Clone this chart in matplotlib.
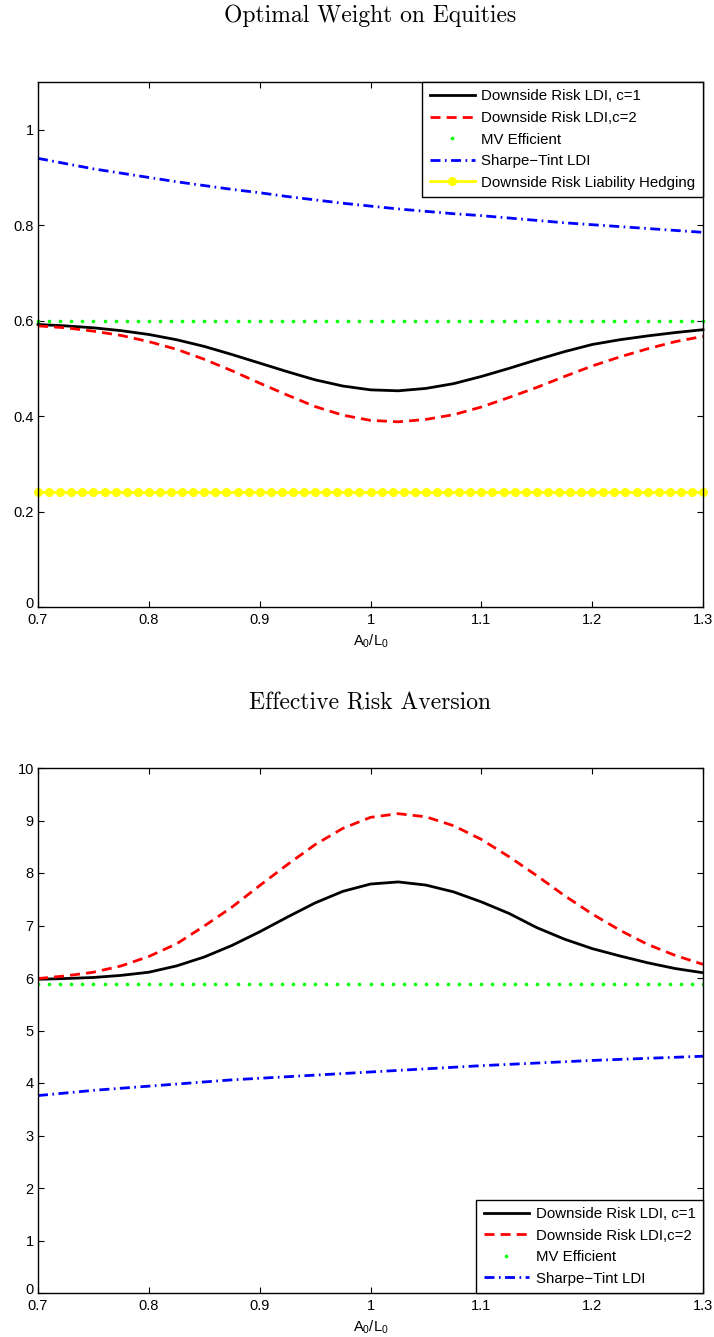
import matplotlib
matplotlib.use("Agg")
import matplotlib.pyplot as plt
import matplotlib.transforms as mtransforms
from matplotlib.ticker import FormatStrFormatter

plt.rcParams["font.family"] = ["Liberation Sans", "DejaVu Sans"]
plt.rcParams["mathtext.fontset"] = "custom"
plt.rcParams["mathtext.rm"] = "Liberation Sans"
plt.rcParams["mathtext.it"] = "Liberation Sans"

# -------------------------------------------------------------
# Data
# -------------------------------------------------------------
ratio = [0.700, 0.725, 0.750, 0.775, 0.800, 0.825, 0.850, 0.875, 0.900,
         0.925, 0.950, 0.975, 1.000, 1.025, 1.050, 1.075, 1.100, 1.125,
         1.150, 1.175, 1.200, 1.225, 1.250, 1.275, 1.300]

# weight on equities
w_c1 = [0.592, 0.589, 0.585, 0.579, 0.571, 0.560, 0.546, 0.529, 0.511,
        0.493, 0.476, 0.463, 0.455, 0.453, 0.458, 0.468, 0.483, 0.500,
        0.518, 0.535, 0.550, 0.560, 0.568, 0.575, 0.581]
w_c2 = [0.589, 0.585, 0.578, 0.569, 0.556, 0.540, 0.519, 0.495, 0.469,
        0.444, 0.420, 0.402, 0.391, 0.388, 0.393, 0.403, 0.419, 0.439,
        0.460, 0.483, 0.505, 0.524, 0.541, 0.556, 0.567]
w_sharpe = [0.940, 0.929, 0.918, 0.909, 0.900, 0.891, 0.883, 0.875, 0.868,
            0.860, 0.853, 0.846, 0.840, 0.834, 0.829, 0.824, 0.820, 0.815,
            0.810, 0.805, 0.801, 0.797, 0.793, 0.789, 0.785]
w_mv = 0.60
w_hedge = 0.24

# effective risk aversion
ra_c1 = [5.975, 5.99, 6.01, 6.05, 6.11, 6.23, 6.40, 6.62, 6.88,
         7.16, 7.43, 7.65, 7.79, 7.83, 7.77, 7.64, 7.45, 7.23,
         6.96, 6.74, 6.56, 6.42, 6.29, 6.18, 6.10]
ra_c2 = [5.99, 6.04, 6.11, 6.23, 6.41, 6.65, 6.99, 7.35, 7.76,
         8.16, 8.54, 8.85, 9.06, 9.13, 9.07, 8.90, 8.64, 8.31,
         7.95, 7.57, 7.22, 6.91, 6.64, 6.43, 6.26]
ra_sharpe = [3.76, 3.81, 3.86, 3.90, 3.94, 3.98, 4.02, 4.06, 4.09,
             4.12, 4.15, 4.18, 4.21, 4.24, 4.27, 4.30, 4.33, 4.355,
             4.38, 4.405, 4.43, 4.45, 4.47, 4.49, 4.51]
ra_mv = 5.89

grid = [round(0.70 + 0.01 * i, 2) for i in range(61)]

xticks = [0.7, 0.8, 0.9, 1.0, 1.1, 1.2, 1.3]

# -------------------------------------------------------------
# Figure
# -------------------------------------------------------------
W, H = 714, 1337
fig = plt.figure(figsize=(W / 100, H / 100), dpi=100)

ax1 = fig.add_axes([38 / W, 1 - 607 / H, 665 / W, 525 / H])
ax2 = fig.add_axes([38 / W, 1 - 1293 / H, 665 / W, 525 / H])

dash = (3.6, 2.2)
dashdot = (3.6, 1.6, 0.6, 1.6)


def style_axes(ax, ylim, yticks, yfmt):
    ax.set_xlim(0.7, 1.3)
    ax.set_ylim(*ylim)
    ax.set_xticks(xticks)
    ax.set_yticks(yticks)
    ax.xaxis.set_major_formatter(FormatStrFormatter("%g"))
    ax.yaxis.set_major_formatter(FormatStrFormatter(yfmt))
    ax.tick_params(direction="in", length=4, width=0.8, top=True,
                   right=True, labelsize=10.5)
    ax.tick_params(axis="x", pad=4)
    ax.tick_params(axis="y", pad=3)
    for s in ax.spines.values():
        s.set_linewidth(1.0)
    ax.set_xlabel("A$_0$/L$_0$", fontsize=10.5, labelpad=4)
    # MATLAB lifts the "0" y label so it clears the x labels
    lbl = ax.get_yticklabels()[0]
    lbl.set_transform(lbl.get_transform() + mtransforms.ScaledTranslation(
        0, 4 / 100, fig.dpi_scale_trans))


def add_legend(ax, loc):
    leg = ax.legend(loc=loc, borderaxespad=0, fontsize=10.8,
                    numpoints=1, handlelength=3.0, handletextpad=0.45,
                    labelspacing=0.5, fancybox=False, framealpha=1,
                    edgecolor="black", borderpad=0.5)
    leg.get_frame().set_linewidth(1.0)


# ---------------- top panel ----------------
ax1.plot(ratio, w_c1, color="black", lw=2, label="Downside Risk LDI, c=1")
ax1.plot(ratio, w_c2, color="red", lw=2, dashes=dash,
         label="Downside Risk LDI,c=2")
ax1.plot(grid, [w_mv] * len(grid), ls="none", marker="o", ms=2.6, mew=0,
         color="#00ff00", label="MV Efficient")
ax1.plot(ratio, w_sharpe, color="blue", lw=2, dashes=dashdot,
         label="Sharpe\u2212Tint LDI")
ax1.plot(grid, [w_hedge] * len(grid), color="yellow", lw=2, marker="o",
         ms=6.5, mew=0, label="Downside Risk Liability Hedging")
style_axes(ax1, (0, 1.1), [0, 0.2, 0.4, 0.6, 0.8, 1.0], "%g")
for ln in ax1.get_lines():
    ln.set_clip_on(False)
add_legend(ax1, "upper right")

# ---------------- bottom panel ----------------
ax2.plot(ratio, ra_c1, color="black", lw=2, label="Downside Risk LDI, c=1")
ax2.plot(ratio, ra_c2, color="red", lw=2, dashes=dash,
         label="Downside Risk LDI,c=2")
ax2.plot(grid, [ra_mv] * len(grid), ls="none", marker="o", ms=2.6, mew=0,
         color="#00ff00", label="MV Efficient")
ax2.plot(ratio, ra_sharpe, color="blue", lw=2, dashes=dashdot,
         label="Sharpe\u2212Tint LDI")
style_axes(ax2, (0, 10), list(range(11)), "%d")
add_legend(ax2, "lower right")

# titles (serif, LaTeX-like)
fig.text(370 / W, 1 - 16 / H, "Optimal Weight on Equities", ha="center",
         va="center", family="cmr10", fontsize=17)
fig.text(370 / W, 1 - 703 / H, "Effective Risk Aversion", ha="center",
         va="center", family="cmr10", fontsize=17)

fig.savefig("out.png", dpi=100)
